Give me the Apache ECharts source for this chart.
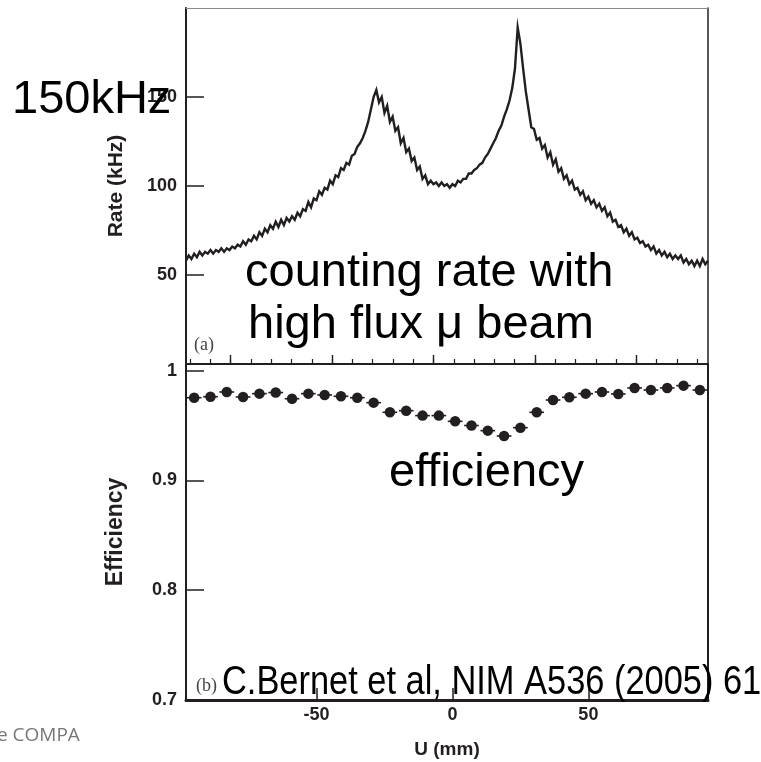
<!DOCTYPE html>
<html>
<head>
<meta charset="utf-8">
<script src="https://cdn.jsdelivr.net/npm/echarts@6/dist/echarts.min.js"></script>
<style>
html,body{margin:0;padding:0;background:#fff;}
#chart{width:761px;height:762px;}
</style>
</head>
<body>
<div id="chart"></div>
<script>
// Panel (a): counting rate vs U (mm), 1 mm bins
const rateU = [-98,-97,-96,-95,-94,-93,-92,-91,-90,-89,-88,-87,-86,-85,-84,-83,-82,-81,-80,-79,-78,-77,-76,-75,-74,-73,-72,-71,-70,-69,-68,-67,-66,-65,-64,-63,-62,-61,-60,-59,-58,-57,-56,-55,-54,-53,-52,-51,-50,-49,-48,-47,-46,-45,-44,-43,-42,-41,-40,-39,-38,-37,-36,-35,-34,-33,-32,-31,-30,-29,-28,-27,-26,-25,-24,-23,-22,-21,-20,-19,-18,-17,-16,-15,-14,-13,-12,-11,-10,-9,-8,-7,-6,-5,-4,-3,-2,-1,0,1,2,3,4,5,6,7,8,9,10,11,12,13,14,15,16,17,18,19,20,21,22,23,24,25,26,27,28,29,30,31,32,33,34,35,36,37,38,39,40,41,42,43,44,45,46,47,48,49,50,51,52,53,54,55,56,57,58,59,60,61,62,63,64,65,66,67,68,69,70,71,72,73,74,75,76,77,78,79,80,81,82,83,84,85,86,87,88,89,90,91,92,93,94];
const rateKHz = [58,61,59,62,60,63,61,63,62,64,62,64,63,65,63,65,64,66,65,67,66,69,67,70,69,72,70,74,72,76,74,78,76,80,77,81,78,82,80,83,81,85,83,87,86,91,88,93,92,97,95,99,98,103,101,106,105,110,109,113,112,117,118,122,124,127,131,136,143,150,154,147,150,141,145,136,139,131,133,124,127,119,121,114,116,109,111,104,106,101,103,101,102,100,102,100,101,99,101,100,103,102,104,104,107,107,109,110,112,113,116,118,121,124,127,131,134,139,143,148,155,166,189,180,166,153,143,133,132,126,127,121,123,116,119,112,115,108,110,104,106,101,103,98,99,95,97,92,94,90,92,88,90,86,88,83,85,80,81,77,78,74,76,72,74,70,71,68,69,66,67,64,66,62,64,61,63,60,62,59,61,59,61,57,59,56,58,55,58,55,59,56,58];

// Panel (b): efficiency vs U (mm), 6 mm bins
const effU = [-95,-89,-83,-77,-71,-65,-59,-53,-47,-41,-35,-29,-23,-17,-11,-5,1,7,13,19,25,31,37,43,49,55,61,67,73,79,85,91];
const effVal = [0.9753,0.9762,0.9805,0.976,0.979,0.980,0.9744,0.979,0.9778,0.9766,0.9753,0.9708,0.962,0.9635,0.959,0.959,0.9538,0.950,0.9453,0.9404,0.948,0.962,0.9732,0.9757,0.979,0.9805,0.9787,0.9842,0.9823,0.9842,0.9863,0.9823];
const effHalfWidth = 2.7;

// Tick labels
const rateTicks = [50, 100, 150];
const effTicks = [0.7, 0.8, 0.9, 1];
const uTicks = [-50, 0, 50];
// secondary (strip) ticks drawn on the lower edge of panel (a)
const stripMajor = [0, 5, 10, 15, 20];
const stripMinor = [-2,-1,0,1,2,3,4,5,6,7,8,9,10,11,12,13,14,15,16,17,18,19,20,21,22,23];

const INK = '#231f20';
const labelFont = '"Liberation Sans", Arial, sans-serif';

const chart = echarts.init(document.getElementById('chart'), null, {renderer: 'canvas'});

const ratePairs = rateU.map((u, i) => [u, rateKHz[i]]);
const effPairs = effU.map((u, i) => [u, effVal[i]]);

const tickLabel = {fontFamily: labelFont, fontWeight: 'bold', fontSize: 18, color: INK};

const option = {
  animation: false,
  backgroundColor: '#fff',
  grid: [
    {left: 186, top: 8, width: 522, height: 356},
    {left: 186, top: 364, width: 522, height: 336}
  ],
  xAxis: [
    {gridIndex: 0, type: 'value', min: -98, max: 94, position: 'top',
     axisLine: {show: true, onZero: false, lineStyle: {color: '#8a8a8a', width: 1}},
     axisTick: {show: false}, axisLabel: {show: false}, splitLine: {show: false}},
    {gridIndex: 0, type: 'value', min: -2.2, max: 23.53, position: 'bottom',
     axisLine: {show: true, onZero: false, lineStyle: {color: INK, width: 2}},
     axisTick: {show: true, inside: true, length: 9, customValues: stripMajor, lineStyle: {color: INK, width: 1.4}},
     axisLabel: {show: false}, splitLine: {show: false}},
    {gridIndex: 0, type: 'value', min: -2.2, max: 23.53, position: 'bottom',
     axisLine: {show: false, onZero: false},
     axisTick: {show: true, inside: true, length: 5, customValues: stripMinor, lineStyle: {color: INK, width: 1.2}},
     axisLabel: {show: false}, splitLine: {show: false}},
    {gridIndex: 1, type: 'value', min: -98, max: 94, position: 'bottom',
     axisLine: {show: true, onZero: false, lineStyle: {color: INK, width: 3}},
     axisTick: {show: true, inside: true, length: 12, customValues: uTicks, lineStyle: {color: INK, width: 1.5}},
     axisLabel: Object.assign({customValues: uTicks, margin: 6}, tickLabel),
     splitLine: {show: false},
     name: 'U (mm)', nameLocation: 'middle', nameGap: 40,
     nameTextStyle: {fontFamily: labelFont, fontWeight: 'bold', fontSize: 19, color: INK}}
  ],
  yAxis: [
    {gridIndex: 0, type: 'value', min: 0, max: 200, position: 'left',
     axisLine: {show: true, onZero: false, lineStyle: {color: INK, width: 2}},
     axisTick: {show: true, inside: true, length: 18, customValues: rateTicks, lineStyle: {color: INK, width: 1.5}},
     axisLabel: Object.assign({customValues: rateTicks, margin: 9}, tickLabel),
     splitLine: {show: false},
     name: 'Rate (kHz)', nameLocation: 'middle', nameRotate: 90, nameGap: 59,
     nameTextStyle: {fontFamily: labelFont, fontWeight: 'bold', fontSize: 21, color: INK}},
    {gridIndex: 0, type: 'value', min: 0, max: 200, position: 'right',
     axisLine: {show: true, onZero: false, lineStyle: {color: INK, width: 1.5}},
     axisTick: {show: false}, axisLabel: {show: false}, splitLine: {show: false}},
    {gridIndex: 1, type: 'value', min: 0.7, max: 1.006, position: 'left',
     axisLine: {show: true, onZero: false, lineStyle: {color: INK, width: 2}},
     axisTick: {show: true, inside: true, length: 18, customValues: effTicks, lineStyle: {color: INK, width: 1.5}},
     axisLabel: Object.assign({customValues: effTicks, margin: 9}, tickLabel),
     splitLine: {show: false},
     name: 'Efficiency', nameLocation: 'middle', nameRotate: 90, nameGap: 59,
     nameTextStyle: {fontFamily: labelFont, fontWeight: 'bold', fontSize: 23, color: INK}},
    {gridIndex: 1, type: 'value', min: 0.7, max: 1.006, position: 'right',
     axisLine: {show: true, onZero: false, lineStyle: {color: INK, width: 2}},
     axisTick: {show: false}, axisLabel: {show: false}, splitLine: {show: false}}
  ],
  series: [
    {type: 'line', xAxisIndex: 0, yAxisIndex: 0, data: ratePairs,
     symbol: 'none', lineStyle: {color: INK, width: 2.4, join: 'miter'}, z: 3},
    {type: 'custom', xAxisIndex: 3, yAxisIndex: 2, data: effPairs,
     renderItem: function (params, api) {
       const u = api.value(0), e = api.value(1);
       const p1 = api.coord([u - effHalfWidth, e]);
       const p2 = api.coord([u + effHalfWidth, e]);
       return {type: 'line', shape: {x1: p1[0], y1: p1[1], x2: p2[0], y2: p2[1]},
               style: {stroke: INK, lineWidth: 1.6}};
     }, z: 3},
    {type: 'scatter', xAxisIndex: 3, yAxisIndex: 2, data: effPairs,
     symbol: 'circle', symbolSize: 10.5, itemStyle: {color: INK, opacity: 1}, z: 4}
  ],
  graphic: [
    {type: 'text', x: 12, y: 100, z: 100,
     style: {text: '150kHz', fontFamily: labelFont, fontSize: 47, fill: '#000', align: 'left', verticalAlign: 'middle'}},
    {type: 'text', x: 245, y: 273, z: 100,
     style: {text: 'counting rate with', fontFamily: labelFont, fontSize: 47, fill: '#000', align: 'left', verticalAlign: 'middle'}},
    {type: 'text', x: 248, y: 325, z: 100,
     style: {text: 'high flux \u03bc beam', fontFamily: labelFont, fontSize: 47, fill: '#000', align: 'left', verticalAlign: 'middle'}},
    {type: 'text', x: 389, y: 473, z: 100,
     style: {text: 'efficiency', fontFamily: labelFont, fontSize: 47, fill: '#000', align: 'left', verticalAlign: 'middle'}},
    {type: 'text', x: 222, y: 683, scaleX: 0.86, z: 100,
     style: {text: 'C.Bernet et al, NIM A536 (2005) 61', fontFamily: labelFont, fontSize: 40, fill: '#000', align: 'left', verticalAlign: 'middle'}},
    {type: 'text', x: 194, y: 345, z: 100,
     style: {text: '(a)', fontFamily: '"Liberation Serif", "Times New Roman", serif', fontSize: 18, fill: '#444', align: 'left', verticalAlign: 'middle'}},
    {type: 'text', x: 196, y: 686, z: 100,
     style: {text: '(b)', fontFamily: '"Liberation Serif", "Times New Roman", serif', fontSize: 18, fill: '#444', align: 'left', verticalAlign: 'middle'}},
    {type: 'text', x: -3, y: 736, z: 100,
     style: {text: 'e COMPA', fontFamily: '"Open Sans", "Noto Sans", sans-serif', fontSize: 19, fill: '#777', align: 'left', verticalAlign: 'middle'}}
  ]
};
chart.setOption(option);
</script>
</body>
</html>
